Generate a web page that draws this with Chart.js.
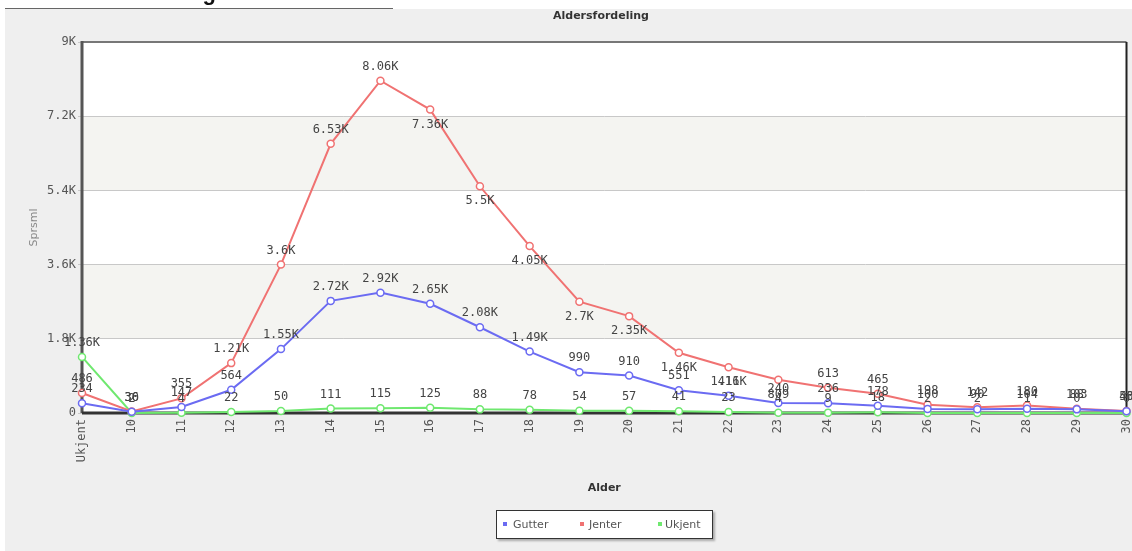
<!DOCTYPE html>
<html>
<head>
<meta charset="utf-8">
<script src="https://cdn.jsdelivr.net/npm/chart.js@4.4.1/dist/chart.umd.min.js"></script>
<style>
html, body { margin: 0; padding: 0; background: #fff; }
#wrap { position: relative; width: 1132px; height: 551px; overflow: hidden; }
#chart { position: absolute; left: 0; top: 0; }
#head { position: absolute; left: 0; top: -20px; width: 216px; text-align: right; white-space: nowrap;
        font: bold 22px "Liberation Sans", sans-serif; color: #111; }
#headline { position: absolute; left: 5px; top: 8px; width: 388px; height: 1px; background: #666; }
#title { position: absolute; left: 553px; top: 9px; font: bold 11px "DejaVu Sans", sans-serif; color: #333; }
#legend { position: absolute; left: 496px; top: 510px; width: 215px; height: 27px; background: #fff;
          border: 1px solid #333; box-shadow: 2px 2px 2px #aaa; font: 11px "DejaVu Sans", sans-serif; color: #555; }
#legend span { position: absolute; top: 7px; }
#legend i { position: absolute; top: 11px; width: 4px; height: 4px; }
</style>
</head>
<body>
<div id="wrap">
  <canvas id="chart" width="1132" height="551"></canvas>
  <div id="head">Aldersfordeling</div>
  <div id="headline"></div>
  <div id="title">Aldersfordeling</div>
  <div id="legend">
    <i style="left:6px;background:#6b6bf2"></i><span style="left:16px">Gutter</span>
    <i style="left:83px;background:#f07272"></i><span style="left:92px">Jenter</span>
    <i style="left:161px;background:#6fe86f"></i><span style="left:168px">Ukjent</span>
  </div>
</div>
<script>
const labels = ['Ukjent','10','11','12','13','14','15','16','17','18','19','20','21','22','23','24','25','26','27','28','29','30'];
const gutter = [234, 30, 147, 564, 1550, 2720, 2920, 2650, 2080, 1490, 990, 910, 551, 416, 240, 236, 178, 100, 90, 104, 88, 43];
const jenter = [486, 36, 355, 1210, 3600, 6530, 8060, 7360, 5500, 4050, 2700, 2350, 1460, 1110, 809, 613, 465, 198, 142, 180, 103, 50];
const ukjent = [1360, 2, 4, 22, 50, 111, 115, 125, 88, 78, 54, 57, 41, 23, 4, 9, 18, 2, 2, 1, 0, 0];
const yTicks = [0, 1800, 3600, 5400, 7200, 9000];

// red labels that sit under the point
const belowRed = [7, 8, 9, 10, 11, 12, 13, 14];

function fmt(v) {
  if (v >= 1000) return parseFloat((v / 1000).toFixed(2)) + 'K';
  return String(v);
}

const bgPlugin = {
  id: 'bg',
  beforeDraw(chart) {
    const ctx = chart.ctx, a = chart.chartArea, y = chart.scales.y;
    ctx.save();
    ctx.fillStyle = '#efefef';
    ctx.fillRect(5, 9, chart.width - 5, chart.height - 9);
    ctx.fillStyle = '#fff';
    ctx.fillRect(a.left, a.top, a.right - a.left, a.bottom - a.top);
    ctx.fillStyle = '#f4f4f1';
    [[5400, 7200], [1800, 3600]].forEach(b => {
      const t = y.getPixelForValue(b[1]), btm = y.getPixelForValue(b[0]);
      ctx.fillRect(a.left, t, a.right - a.left, btm - t);
    });
    ctx.restore();
  },
  beforeDatasetsDraw(chart) {
    const ctx = chart.ctx, a = chart.chartArea;
    ctx.save();
    ctx.lineWidth = 2;
    ctx.strokeStyle = '#777';
    ctx.beginPath(); ctx.moveTo(a.left, a.top); ctx.lineTo(a.right, a.top); ctx.stroke();
    ctx.strokeStyle = '#222';
    ctx.beginPath(); ctx.moveTo(a.right, a.top); ctx.lineTo(a.right, a.bottom); ctx.stroke();
    ctx.lineWidth = 3;
    ctx.strokeStyle = '#555';
    ctx.beginPath(); ctx.moveTo(a.left, a.top - 1); ctx.lineTo(a.left, a.bottom); ctx.stroke();
    ctx.strokeStyle = '#333';
    ctx.beginPath(); ctx.moveTo(a.left, a.bottom); ctx.lineTo(a.right, a.bottom); ctx.stroke();
    ctx.restore();
  },
  afterDatasetsDraw(chart) {
    const ctx = chart.ctx;
    ctx.save();
    ctx.font = '12px "DejaVu Sans Mono"';
    ctx.fillStyle = '#444';
    ctx.textAlign = 'center';
    ctx.textBaseline = 'middle';
    chart.data.datasets.forEach((ds, i) => {
      const meta = chart.getDatasetMeta(i);
      meta.data.forEach((pt, j) => {
        const below = (i === 1 && belowRed.includes(j));
        ctx.fillText(fmt(ds.data[j]), pt.x, below ? pt.y + 15 : pt.y - 14);
      });
    });
    ctx.restore();
  }
};

function series(label, data, color) {
  return {
    label: label, data: data, borderColor: color, backgroundColor: '#fff',
    borderWidth: 2, tension: 0, pointRadius: 3.5, pointBorderWidth: 1.5,
    pointBackgroundColor: '#fff', pointBorderColor: color, clip: false
  };
}

new Chart(document.getElementById('chart').getContext('2d'), {
  type: 'line',
  data: {
    labels: labels,
    datasets: [
      series('Gutter', gutter, '#6b6bf2'),
      series('Jenter', jenter, '#f07272'),
      series('Ukjent', ukjent, '#6fe86f')
    ]
  },
  options: {
    responsive: false,
    animation: false,
    layout: { padding: { top: 42, left: 0, right: 2, bottom: 54 } },
    plugins: { legend: { display: false }, title: { display: false }, tooltip: { enabled: false } },
    scales: {
      x: {
        offset: false,
        grid: { display: false, drawTicks: false },
        border: { display: false },
        ticks: { autoSkip: false, minRotation: 90, maxRotation: 90, padding: 6, color: '#555',
                 font: { family: 'DejaVu Sans Mono', size: 12 } },
        title: { display: true, text: 'Alder', color: '#333', padding: { top: 0, bottom: 2 },
                 font: { family: 'DejaVu Sans', size: 11, weight: 'bold' } },
        afterFit(scale) { scale.height = 84; scale.paddingLeft = 0; scale.paddingRight = 0; }
      },
      y: {
        min: 0, max: 9000,
        afterBuildTicks(scale) { scale.ticks = yTicks.map(v => ({ value: v })); },
        grid: { color: '#c8c8c8', tickLength: 4, drawTicks: true },
        border: { display: false },
        ticks: { padding: 2, color: '#555', callback: v => fmt(v),
                 font: { family: 'DejaVu Sans Mono', size: 12 } },
        title: { display: true, text: 'Sprsml', color: '#888', padding: { top: 28, bottom: 0 },
                 font: { family: 'DejaVu Sans', size: 11 } },
        afterFit(scale) { scale.width = 82; scale.paddingTop = 0; scale.paddingBottom = 0; }
      }
    }
  },
  plugins: [bgPlugin]
});
</script>
</body>
</html>
